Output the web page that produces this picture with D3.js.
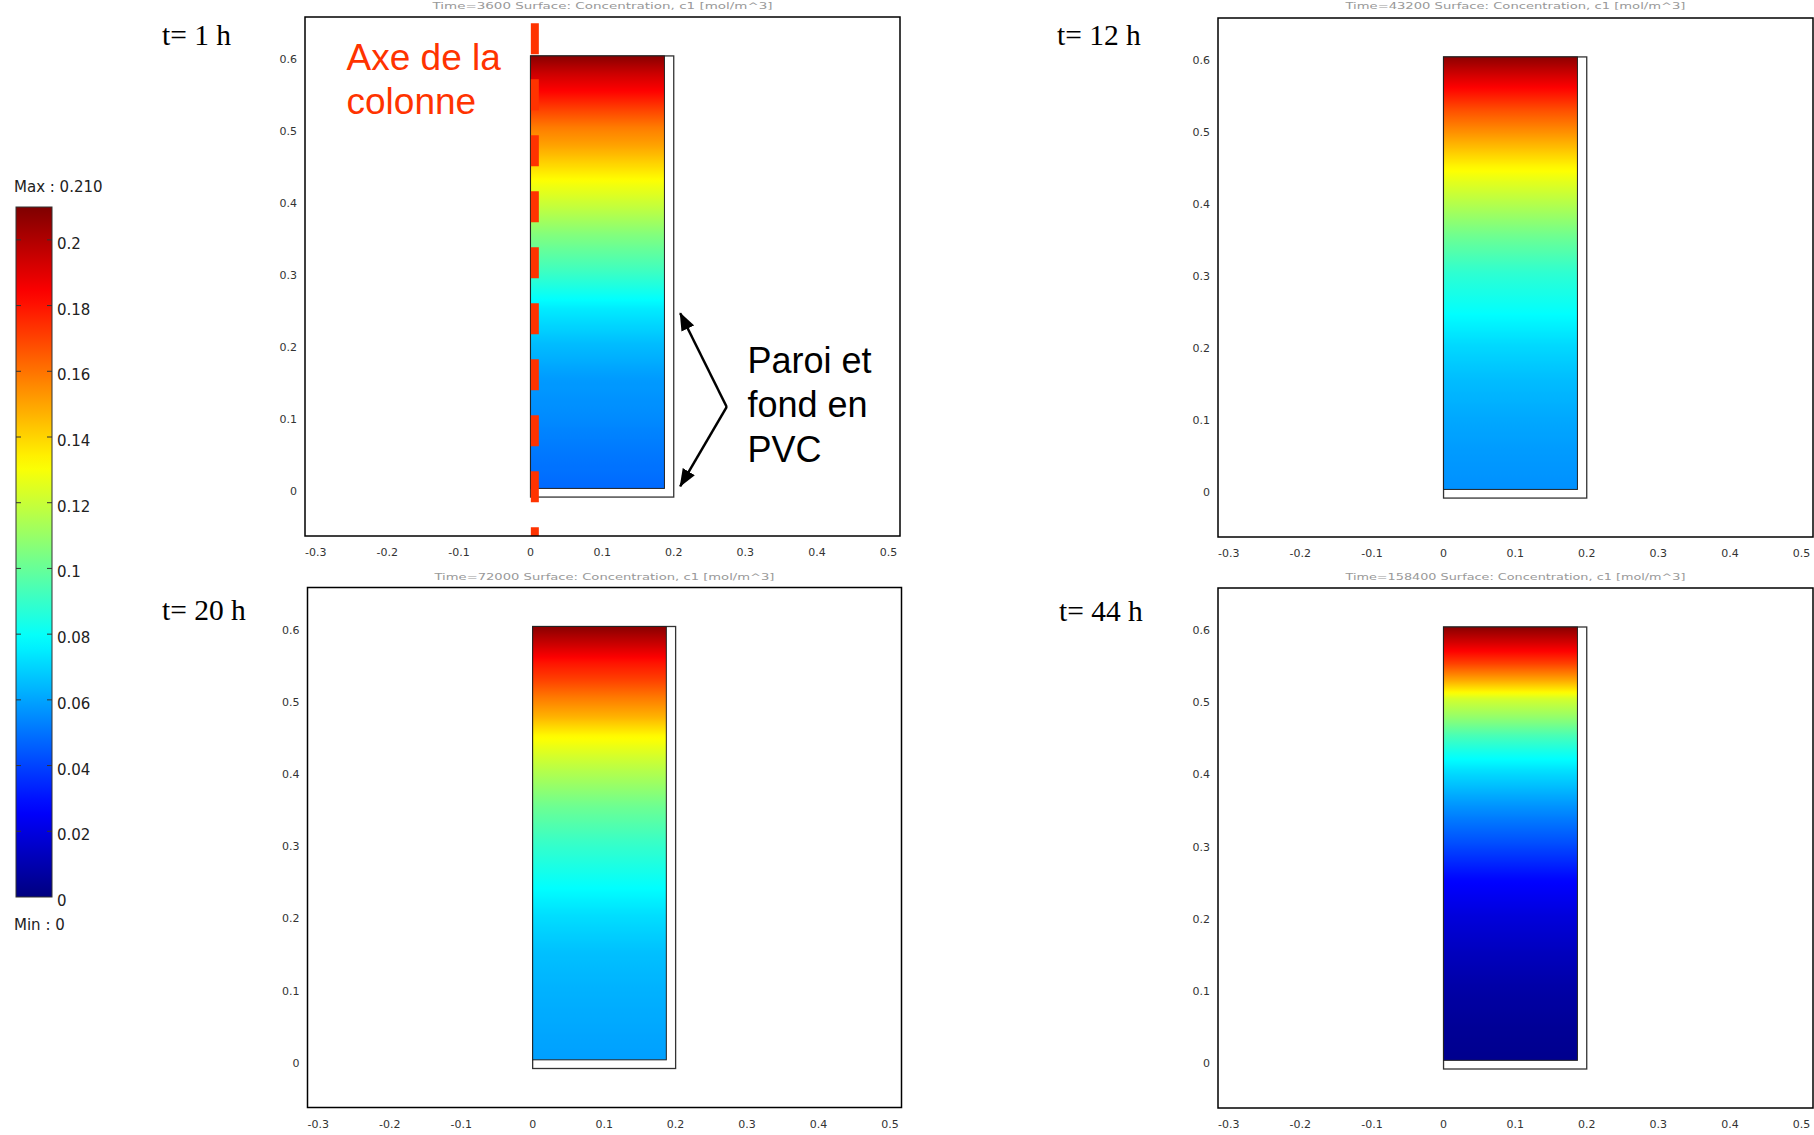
<!DOCTYPE html>
<html><head><meta charset="utf-8">
<script src="https://cdn.jsdelivr.net/npm/d3@7"></script>
<style>body{margin:0;background:#fff}svg{display:block}</style>
</head><body><svg id="c" width="1814" height="1135"></svg>
<script>
// ---------------- DATA ----------------
const heights = [0, 0.05, 0.1, 0.15, 0.2, 0.25, 0.3, 0.35, 0.4, 0.425, 0.45, 0.475, 0.5, 0.525, 0.55, 0.575, 0.6];
const conc1h  = [0.048, 0.051, 0.055, 0.058, 0.065, 0.075, 0.091, 0.105, 0.122, 0.130, 0.140, 0.150, 0.158, 0.170, 0.183, 0.194, 0.208];
const conc12h = [0.056, 0.058, 0.061, 0.065, 0.071, 0.080, 0.088, 0.101, 0.117, 0.125, 0.134, 0.145, 0.156, 0.167, 0.180, 0.193, 0.207];
const conc20h = [0.059, 0.061, 0.063, 0.066, 0.072, 0.081, 0.090, 0.101, 0.116, 0.124, 0.133, 0.147, 0.158, 0.170, 0.180, 0.194, 0.208];
const conc44h = [0.003, 0.005, 0.008, 0.013, 0.019, 0.027, 0.042, 0.056, 0.072, 0.082, 0.094, 0.109, 0.122, 0.148, 0.171, 0.190, 0.208];
const timeLabels = ["t= 1 h", "t= 12 h", "t= 20 h", "t= 44 h"];
const timeSeconds = [3600, 43200, 72000, 158400];
const xTicks = [-0.3, -0.2, -0.1, 0, 0.1, 0.2, 0.3, 0.4, 0.5];
const xTickLabels = ["-0.3", "-0.2", "-0.1", "0", "0.1", "0.2", "0.3", "0.4", "0.5"];
const yTicks = [0, 0.1, 0.2, 0.3, 0.4, 0.5, 0.6];
const yTickLabels = ["0", "0.1", "0.2", "0.3", "0.4", "0.5", "0.6"];
const cbTicks = [0, 0.02, 0.04, 0.06, 0.08, 0.1, 0.12, 0.14, 0.16, 0.18, 0.2];
const cbTickLabels = ["0", "0.02", "0.04", "0.06", "0.08", "0.1", "0.12", "0.14", "0.16", "0.18", "0.2"];
const cMin = 0, cMax = 0.21;
const maxLabel = "Max : 0.210", minLabel = "Min : 0";
// geometry of the column (m)
const fluidRadius = 0.187, wallOuter = 0.2, columnHeight = 0.6, bottomThickness = 0.012;
// annotation texts (first panel)
const axisText = ["Axe de la", "colonne"];
const pvcText = ["Paroi et", "fond en", "PVC"];

// ---------------- SETUP ----------------
const svg = d3.select("#c");
const defs = svg.append("defs");
const jetKnots = [0, 0.125, 0.375, 0.625, 0.875, 1];
const jetColors = ["#00007f", "#0000ff", "#00ffff", "#ffff00", "#ff0000", "#7f0000"];
const jet = d3.scaleLinear().domain(jetKnots.map(t => cMin + t * (cMax - cMin)))
  .range(jetColors).interpolate(d3.interpolateRgb).clamp(true);

defs.append("marker").attr("id", "arr").attr("markerUnits", "userSpaceOnUse")
  .attr("markerWidth", 18).attr("markerHeight", 14).attr("refX", 17).attr("refY", 7)
  .attr("orient", "auto")
  .append("path").attr("d", "M0,0 L18,7 L0,14 Z").attr("fill", "#000");

const tickFont = "'DejaVu Sans', Verdana, sans-serif";

// ---------------- COLORBAR ----------------
const cb = {left: 16, width: 36, top: 207, bottom: 897};
const cbY = d3.scaleLinear().domain([cMin, cMax]).range([cb.bottom, cb.top]);
const cbGrad = defs.append("linearGradient").attr("id", "cbg")
  .attr("gradientUnits", "userSpaceOnUse")
  .attr("x1", 0).attr("x2", 0).attr("y1", cbY(cMin)).attr("y2", cbY(cMax));
d3.range(0, 1.0001, 0.02).forEach(t => {
  cbGrad.append("stop").attr("offset", t).attr("stop-color", jet(cMin + t * (cMax - cMin)));
});
svg.append("rect").attr("x", cb.left).attr("y", cbY(cMax)).attr("width", cb.width)
  .attr("height", cbY(cMin) - cbY(cMax)).attr("fill", "url(#cbg)")
  .attr("stroke", "#333").attr("stroke-width", 1);
const cbT = svg.append("g");
cbTicks.forEach((v, i) => {
  if (v > cMin) {
    cbT.append("line").attr("x1", cb.left).attr("x2", cb.left + 5).attr("y1", cbY(v)).attr("y2", cbY(v))
      .attr("stroke", "#333").attr("stroke-width", 1);
    cbT.append("line").attr("x1", cb.left + cb.width - 5).attr("x2", cb.left + cb.width).attr("y1", cbY(v)).attr("y2", cbY(v))
      .attr("stroke", "#333").attr("stroke-width", 1);
  }
  cbT.append("text").attr("x", cb.left + cb.width + 5).attr("y", cbY(v) + 9)
    .attr("font-family", tickFont).attr("font-size", 15).attr("fill", "#222").text(cbTickLabels[i]);
});
svg.append("text").attr("x", 14).attr("y", 192).attr("font-family", tickFont).attr("font-size", 15)
  .attr("fill", "#222").text(maxLabel);
svg.append("text").attr("x", 14).attr("y", 930).attr("font-family", tickFont).attr("font-size", 15)
  .attr("fill", "#222").text(minLabel);

// ---------------- PANELS ----------------
const panelData = [conc1h, conc12h, conc20h, conc44h];
const frames = [
  {left: 305, top: 17, width: 595, height: 519, tx: 162, ty: 45, titleY: 9},
  {left: 1218, top: 18, width: 595, height: 519, tx: 1057, ty: 45, titleY: 9},
  {left: 307.5, top: 587.5, width: 594, height: 520, tx: 162, ty: 620, titleY: 580},
  {left: 1218, top: 588, width: 595, height: 520, tx: 1059, ty: 621, titleY: 580}
];
const xDomain = [-0.315, 0.516], yDomain = [-0.066, 0.654];
const scales = [];

frames.forEach((f, i) => {
  const x = d3.scaleLinear().domain(xDomain).range([f.left, f.left + f.width]);
  const y = d3.scaleLinear().domain(yDomain).range([f.top + f.height, f.top]);
  scales.push({x, y});
  const g = svg.append("g");

  defs.append("clipPath").attr("id", "clip" + i).append("rect")
    .attr("x", f.left).attr("y", f.top).attr("width", f.width).attr("height", f.height);

  // gradient along height, colour = jet(concentration)
  const prof = d3.scaleLinear().domain(heights).range(panelData[i]);
  const grad = defs.append("linearGradient").attr("id", "g" + i)
    .attr("gradientUnits", "userSpaceOnUse")
    .attr("x1", 0).attr("x2", 0).attr("y1", y(0)).attr("y2", y(columnHeight));
  d3.range(0, 1.0001, 0.005).forEach(t => {
    grad.append("stop").attr("offset", t).attr("stop-color", jet(prof(t * columnHeight)));
  });

  const body = g.append("g").attr("clip-path", `url(#clip${i})`);
  body.append("rect").attr("x", x(0)).attr("y", y(columnHeight))
    .attr("width", x(wallOuter) - x(0)).attr("height", y(-bottomThickness) - y(columnHeight))
    .attr("fill", "#fff").attr("stroke", "#333").attr("stroke-width", 1.3);
  body.append("rect").attr("x", x(0)).attr("y", y(columnHeight))
    .attr("width", x(fluidRadius) - x(0)).attr("height", y(0) - y(columnHeight))
    .attr("fill", `url(#g${i})`).attr("stroke", "#222").attr("stroke-width", 1);

  if (i === 0) {
    body.append("line").attr("x1", x(0.006)).attr("x2", x(0.006))
      .attr("y1", y(0.6455)).attr("y2", y(-0.08))
      .attr("stroke", "#ff3300").attr("stroke-width", 8).attr("stroke-dasharray", "31,25");
  }

  g.append("rect").attr("x", f.left).attr("y", f.top).attr("width", f.width).attr("height", f.height)
    .attr("fill", "none").attr("stroke", "#000").attr("stroke-width", 1.5);

  xTicks.forEach((v, k) => {
    g.append("text").attr("x", x(v)).attr("y", f.top + f.height + 20).attr("text-anchor", "middle")
      .attr("font-family", tickFont).attr("font-size", 11).attr("fill", "#333").text(xTickLabels[k]);
  });
  yTicks.forEach((v, k) => {
    g.append("text").attr("x", f.left - 8).attr("y", y(v) + 7).attr("text-anchor", "end")
      .attr("font-family", tickFont).attr("font-size", 11).attr("fill", "#333").text(yTickLabels[k]);
  });

  // faint plot title
  g.append("text")
    .attr("x", f.left + f.width / 2 - 170).attr("y", f.titleY)
    .attr("textLength", 340).attr("lengthAdjust", "spacingAndGlyphs")
    .attr("font-family", tickFont).attr("font-size", 8.5).attr("fill", "#999")
    .text(`Time=${timeSeconds[i]}   Surface: Concentration, c1 [mol/m^3]`);

  g.append("text").attr("x", f.tx).attr("y", f.ty)
    .attr("font-family", "'Liberation Serif', 'Times New Roman', serif").attr("font-size", 29.5)
    .attr("fill", "#000").text(timeLabels[i]);
});

// ---------------- ANNOTATIONS (panel 1) ----------------
{
  const {x, y} = scales[0];
  const a = svg.append("g");
  axisText.forEach((t, k) => {
    a.append("text").attr("x", x(-0.257)).attr("y", y(0.58 - k * 0.061))
      .attr("font-family", "'Liberation Sans', Arial, sans-serif").attr("font-size", 37)
      .attr("fill", "#ff3300").text(t);
  });
  pvcText.forEach((t, k) => {
    a.append("text").attr("x", x(0.303)).attr("y", y(0.16 - k * 0.0615))
      .attr("font-family", "'Liberation Sans', Arial, sans-serif").attr("font-size", 36)
      .attr("fill", "#000").text(t);
  });
  const vx = 0.274, vy = 0.113;
  [[0.209, 0.243], [0.209, 0.003]].forEach(([tx, ty]) => {
    a.append("line").attr("x1", x(vx)).attr("y1", y(vy)).attr("x2", x(tx)).attr("y2", y(ty))
      .attr("stroke", "#000").attr("stroke-width", 2.5).attr("marker-end", "url(#arr)");
  });
}
</script></body></html>
